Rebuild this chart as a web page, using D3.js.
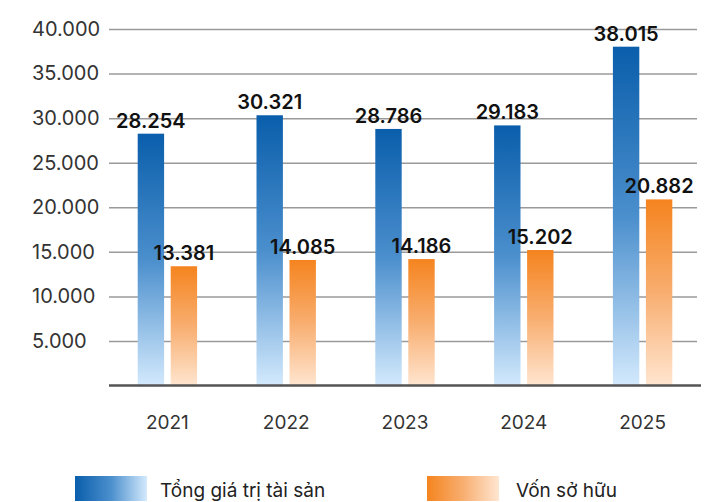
<!DOCTYPE html>
<head>
<meta charset="utf-8" />
<script src="https://d3js.org/d3.v7.min.js"></script>
<style>
    body { margin: 0; background: #fff; font-family: Inter, "Noto Sans", sans-serif; }
</style>
</head>
<body>
<div id="chart"></div>
<script>
    // du lieu
    var years = ["2021", "2022", "2023", "2024", "2025"];
    var seriesNames = ["Tổng giá trị tài sản", "Vốn sở hữu"];
    var tongTaiSan = [28254, 30321, 28786, 29183, 38015];
    var vonSoHuu = [13381, 14085, 14186, 15202, 20882];
    var yTicks = [5000, 10000, 15000, 20000, 25000, 30000, 35000, 40000];

    var width = 715, height = 502;

    var svg = d3.select("#chart").append("svg")
        .attr("width", width)
        .attr("height", height);

    var vn = d3.formatLocale({ decimal: ",", thousands: ".", grouping: [3], currency: ["", ""] });
    var fmt = vn.format(",");

    // gradient cho cot va chu thich
    var defs = svg.append("defs");
    var colors = [
        { id: "blue", top: "#0a5eab", mid: "#4b8fcd", bottom: "#d4eafd" },
        { id: "orange", top: "#f5841f", mid: "#f8ae70", bottom: "#ffe6d1" }
    ];
    colors.forEach(function(c) {
        var g = defs.append("linearGradient").attr("id", "v-" + c.id)
            .attr("x1", 0).attr("y1", 0).attr("x2", 0).attr("y2", 1);
        g.append("stop").attr("offset", "0%").attr("stop-color", c.top);
        g.append("stop").attr("offset", "50%").attr("stop-color", c.mid);
        g.append("stop").attr("offset", "100%").attr("stop-color", c.bottom);
        var h = defs.append("linearGradient").attr("id", "h-" + c.id)
            .attr("x1", 0).attr("y1", 0).attr("x2", 1).attr("y2", 0);
        h.append("stop").attr("offset", "0%").attr("stop-color", c.top);
        h.append("stop").attr("offset", "50%").attr("stop-color", c.mid);
        h.append("stop").attr("offset", "100%").attr("stop-color", c.bottom);
    });

    var x = d3.scaleBand()
        .domain(years)
        .range([108, 702])
        .paddingInner(0.5)
        .paddingOuter(0.25);

    var xSub = d3.scaleBand()
        .domain(seriesNames)
        .range([0, x.bandwidth()])
        .paddingInner(0.2);

    var y = d3.scaleLinear()
        .domain([0, 40000])
        .range([385.5, 29]);

    // luoi ngang + nhan truc y
    var yAxis = svg.append("g")
        .attr("transform", "translate(109,0)")
        .call(d3.axisLeft(y).tickValues(yTicks).tickFormat(fmt).tickSize(-588));
    yAxis.select(".domain").remove();
    yAxis.selectAll(".tick line").attr("stroke", "#9a9a9a").attr("stroke-width", 1.5);
    yAxis.selectAll(".tick text")
        .attr("x", -77)
        .attr("dy", "0.32em")
        .attr("text-anchor", "start")
        .attr("fill", "#333")
        .style("font-size", "20px")
        .style("font-family", "Inter, sans-serif");

    var rows = years.map(function(yr, i) {
        return { year: yr, values: [tongTaiSan[i], vonSoHuu[i]] };
    });

    var groups = svg.append("g").selectAll("g")
        .data(rows)
        .join("g")
        .attr("transform", function(d) { return "translate(" + x(d.year) + ",0)"; });

    groups.selectAll("rect")
        .data(function(d) { return d.values.map(function(v, j) { return { s: seriesNames[j], v: v, j: j }; }); })
        .join("rect")
        .attr("x", function(d) { return xSub(d.s); })
        .attr("y", function(d) { return y(d.v); })
        .attr("width", xSub.bandwidth())
        .attr("height", function(d) { return y(0) - y(d.v) + 1; })
        .attr("fill", function(d) { return d.j === 0 ? "url(#v-blue)" : "url(#v-orange)"; });

    // duong truc ngang
    svg.append("line")
        .attr("x1", 109).attr("x2", 701)
        .attr("y1", y(0)).attr("y2", y(0))
        .attr("stroke", "#555").attr("stroke-width", 2.5);

    groups.selectAll("text.val")
        .data(function(d) { return d.values.map(function(v, j) { return { s: seriesNames[j], v: v }; }); })
        .join("text")
        .attr("class", "val")
        .attr("x", function(d) { return xSub(d.s) + xSub.bandwidth() / 2; })
        .attr("y", function(d) { return y(d.v) - 6; })
        .attr("text-anchor", "middle")
        .attr("fill", "#111")
        .style("font-size", "20px")
        .style("font-weight", 600)
        .text(function(d) { return fmt(d.v); });

    // nhan nam
    var xAxis = svg.append("g")
        .attr("transform", "translate(0," + y(0) + ")")
        .call(d3.axisBottom(x).tickSize(0).tickPadding(30));
    xAxis.select(".domain").remove();
    xAxis.selectAll("text")
        .attr("fill", "#333")
        .style("font-size", "19px")
        .style("font-family", "Inter, sans-serif");

    // chu thich
    var legendX = [75, 427];
    var legend = svg.append("g").selectAll("g")
        .data(seriesNames)
        .join("g")
        .attr("transform", function(d, i) { return "translate(" + legendX[i] + ",476)"; });
    legend.append("rect")
        .attr("width", 72).attr("height", 25)
        .attr("fill", function(d, i) { return i === 0 ? "url(#h-blue)" : "url(#h-orange)"; });
    legend.append("text")
        .attr("x", function(d, i) { return i === 0 ? 85 : 89; })
        .attr("y", 21)
        .attr("fill", "#222")
        .style("font-size", "19px")
        .text(function(d) { return d; });
</script>
</body>
